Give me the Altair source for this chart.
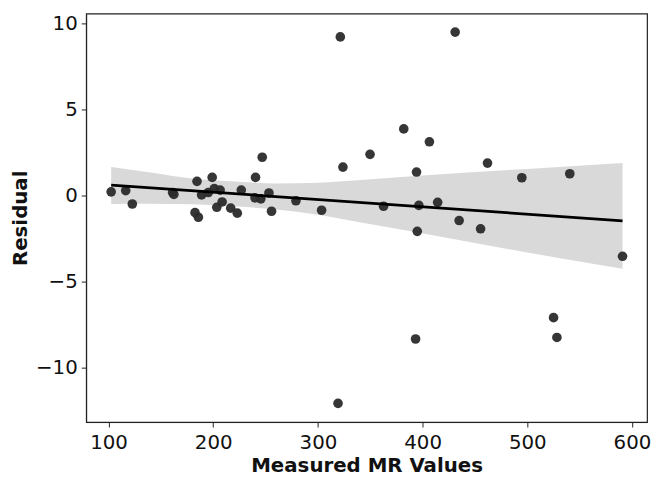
import altair as alt
import numpy as np
import pandas as pd

# Data
mr_values = [102.5, 116.4, 122.7, 161.2, 162.4, 182.6, 185.8, 184.5, 188.9, 199.0,
             195.3, 201.0, 206.6, 203.4, 208.5, 216.7, 223.0, 226.8, 240.4, 246.8,
             239.9, 245.5, 253.2, 255.7, 279.0, 303.5, 321.4, 323.9, 349.8, 319.2,
             431.1, 382.0, 406.5, 394.2, 462.0, 494.8, 540.6, 362.7, 396.4, 414.4,
             434.9, 455.4, 394.9, 591.0, 525.1, 528.3, 393.3]
residuals = [0.23, 0.30, -0.48, 0.19, 0.08, -0.98, -1.25, 0.84, 0.05, 1.07,
             0.19, 0.42, 0.33, -0.67, -0.36, -0.72, -1.01, 0.33, 1.07, 2.24,
             -0.12, -0.18, 0.16, -0.90, -0.29, -0.84, 9.24, 1.67, 2.41, -12.07,
             9.52, 3.89, 3.14, 1.38, 1.90, 1.05, 1.28, -0.61, -0.56, -0.38,
             -1.44, -1.92, -2.07, -3.52, -7.09, -8.24, -8.33]

# Confidence band edges (bootstrap band)
band_x = [102.5, 140, 180, 216, 260, 300, 341, 393, 450, 500, 591]
band_hi = [1.67, 1.35, 1.0, 0.84, 0.72, 0.76, 0.92, 1.15, 1.38, 1.56, 1.9]
band_lo = [-0.48, -0.46, -0.5, -0.6, -0.8, -1.1, -1.55, -2.1, -2.75, -3.3, -4.25]

x_ticks = [100, 200, 300, 400, 500, 600]
y_ticks = [-10, -5, 0, 5, 10]

pts = pd.DataFrame({"x": mr_values, "y": residuals})
band = pd.DataFrame({"x": band_x, "lo": band_lo, "hi": band_hi})

xscale = alt.Scale(domain=[78.6, 614.4], nice=False, zero=False)
yscale = alt.Scale(domain=[-13.16, 10.6], nice=False, zero=False)

xaxis = alt.Axis(title="Measured MR Values", values=x_ticks, grid=False)
yaxis = alt.Axis(title="Residual", values=y_ticks, grid=False)

area = alt.Chart(band).mark_area(color="#d9d9d9", opacity=1, interpolate="monotone").encode(
    x=alt.X("x:Q", scale=xscale, axis=xaxis),
    y=alt.Y("lo:Q", scale=yscale, axis=yaxis),
    y2="hi:Q",
)

points = alt.Chart(pts).mark_circle(size=95, color="#2b2b2b", opacity=0.95).encode(
    x=alt.X("x:Q", scale=xscale),
    y=alt.Y("y:Q", scale=yscale),
)

line = alt.Chart(pts).transform_regression(
    "x", "y", method="linear", extent=[min(mr_values), max(mr_values)]
).mark_line(color="#000000", strokeWidth=2.8).encode(
    x=alt.X("x:Q", scale=xscale),
    y=alt.Y("y:Q", scale=yscale),
)

chart = alt.layer(area, points, line).properties(
    width=567,
    height=413,
    autosize=alt.AutoSizeParams(type="none"),
    padding={"left": 79, "top": 3, "right": 4, "bottom": 56},
).configure_view(
    stroke="#222222", strokeWidth=1.2
).configure_axis(
    labelFont="DejaVu Sans",
    titleFont="DejaVu Sans",
    labelFontSize=20,
    titleFontSize=20,
    titleFontWeight="bold",
    labelColor="#111111",
    titleColor="#111111",
    tickColor="#222222",
    domainColor="#222222",
    tickSize=5,
    tickWidth=1,
    labelPadding=4,
).configure_axisX(
    titlePadding=3,
    labelPadding=6,
).configure_axisY(
    titlePadding=5,
)

chart.save("out.html", embed_options={"renderer": "svg", "actions": False})
